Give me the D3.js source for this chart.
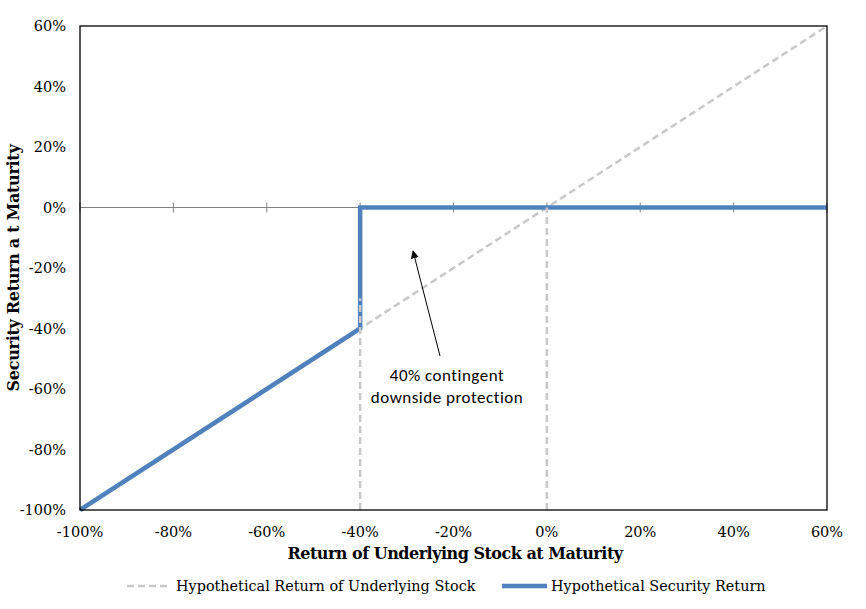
<!DOCTYPE html>
<html><head><meta charset="utf-8">
<script src="https://cdn.jsdelivr.net/npm/d3@7"></script>
<style>body{margin:0;background:#fff}svg{display:block}</style>
</head><body><svg id="c" width="866" height="609"></svg>
<script>
const xTicks = [-100,-80,-60,-40,-20,0,20,40,60];
const yTicks = [-100,-80,-60,-40,-20,0,20,40,60];
const stockX = [-100,60];
const stockY = [-100,60];
const securityX = [-100,-40,-40,60];
const securityY = [-100,-40,0,0];
const guideX = [-40,0];
const seriesNames = ["Hypothetical Return of Underlying Stock","Hypothetical Security Return"];
const annotationLines = ["40% contingent","downside protection"];

const svg = d3.select("#c");
const L=80,R=827,T=26,B=510;
const x = d3.scaleLinear().domain([-100,60]).range([L,R]);
const y = d3.scaleLinear().domain([-100,60]).range([B,T]);
const serif = "Georgia, 'DejaVu Serif', serif";
const gray = "#c8c8c8", blue = "#4f81bd";

svg.append("line").attr("x1",L).attr("x2",R).attr("y1",y(0)).attr("y2",y(0)).attr("stroke","#808080").attr("stroke-width",1);
svg.selectAll(".zt").data(xTicks).enter().append("line")
  .attr("x1",d=>x(d)).attr("x2",d=>x(d)).attr("y1",y(0)-5).attr("y2",y(0)+5)
  .attr("stroke","#808080").attr("stroke-width",1);

const line = d3.line().x(d=>x(d[0])).y(d=>y(d[1]));
svg.append("path").attr("d",line(stockX.map((v,i)=>[v,stockY[i]])))
  .attr("fill","none").attr("stroke",gray).attr("stroke-width",2.5).attr("stroke-dasharray","7,4");
svg.append("path").attr("d",line(securityX.map((v,i)=>[v,securityY[i]])))
  .attr("fill","none").attr("stroke",blue).attr("stroke-width",4.5).attr("stroke-linejoin","miter");
svg.append("line").attr("x1",x(guideX[0])).attr("x2",x(guideX[0])).attr("y1",y(-100)).attr("y2",y(-30))
  .attr("stroke",gray).attr("stroke-width",2.5).attr("stroke-dasharray","7,4");
svg.append("line").attr("x1",x(guideX[1])).attr("x2",x(guideX[1])).attr("y1",y(-100)).attr("y2",y(0))
  .attr("stroke",gray).attr("stroke-width",2.5).attr("stroke-dasharray","7,4");

svg.append("rect").attr("x",L).attr("y",T).attr("width",R-L).attr("height",B-T)
  .attr("fill","none").attr("stroke","#000").attr("stroke-width",1.3);

svg.selectAll(".yl").data(yTicks).enter().append("text")
  .attr("x",66).attr("y",d=>y(d)+5).attr("text-anchor","end")
  .attr("font-family",serif).attr("font-size",14.5).attr("fill","#000").text(d=>d+"%");
svg.selectAll(".xl").data(xTicks).enter().append("text")
  .attr("x",d=>x(d)).attr("y",537).attr("text-anchor","middle")
  .attr("font-family",serif).attr("font-size",14.5).attr("fill","#000").text(d=>d+"%");

svg.append("text").attr("x",455).attr("y",559).attr("text-anchor","middle")
  .attr("font-family",serif).attr("font-size",16).attr("font-weight","bold").attr("letter-spacing","-0.5")
  .text("Return of Underlying Stock at Maturity");
svg.append("text").attr("transform","translate(19,268) rotate(-90)").attr("text-anchor","middle")
  .attr("font-family",serif).attr("font-size",16).attr("font-weight","bold").attr("letter-spacing","-0.3")
  .text("Security Return a t Maturity");

svg.append("defs").append("marker").attr("id","ah").attr("viewBox","0 0 10 10").attr("refX",9).attr("refY",5)
  .attr("markerWidth",8).attr("markerHeight",8).attr("orient","auto")
  .append("path").attr("d","M0,0L10,5L0,10z").attr("fill","#000");
svg.append("line").attr("x1",440).attr("y1",356).attr("x2",413).attr("y2",251)
  .attr("stroke","#000").attr("stroke-width",1).attr("marker-end","url(#ah)");
svg.selectAll(".an").data(annotationLines).enter().append("text")
  .attr("x",447).attr("y",(d,i)=>381+i*22).attr("text-anchor","middle")
  .attr("font-family","Carlito, 'Open Sans', 'Noto Sans', sans-serif").attr("font-size",17).attr("letter-spacing","0.5")
  .attr("fill","#000").text(d=>d);

const lg = svg.append("g");
lg.append("line").attr("x1",127).attr("x2",171).attr("y1",586).attr("y2",586)
  .attr("stroke",gray).attr("stroke-width",2.5).attr("stroke-dasharray","7,4");
lg.append("text").attr("x",176).attr("y",591).attr("font-family",serif).attr("font-size",14.4).text(seriesNames[0]);
lg.append("line").attr("x1",502).attr("x2",547).attr("y1",586).attr("y2",586)
  .attr("stroke",blue).attr("stroke-width",4.5);
lg.append("text").attr("x",551).attr("y",591).attr("font-family",serif).attr("font-size",14.4).text(seriesNames[1]);
</script></body></html>
